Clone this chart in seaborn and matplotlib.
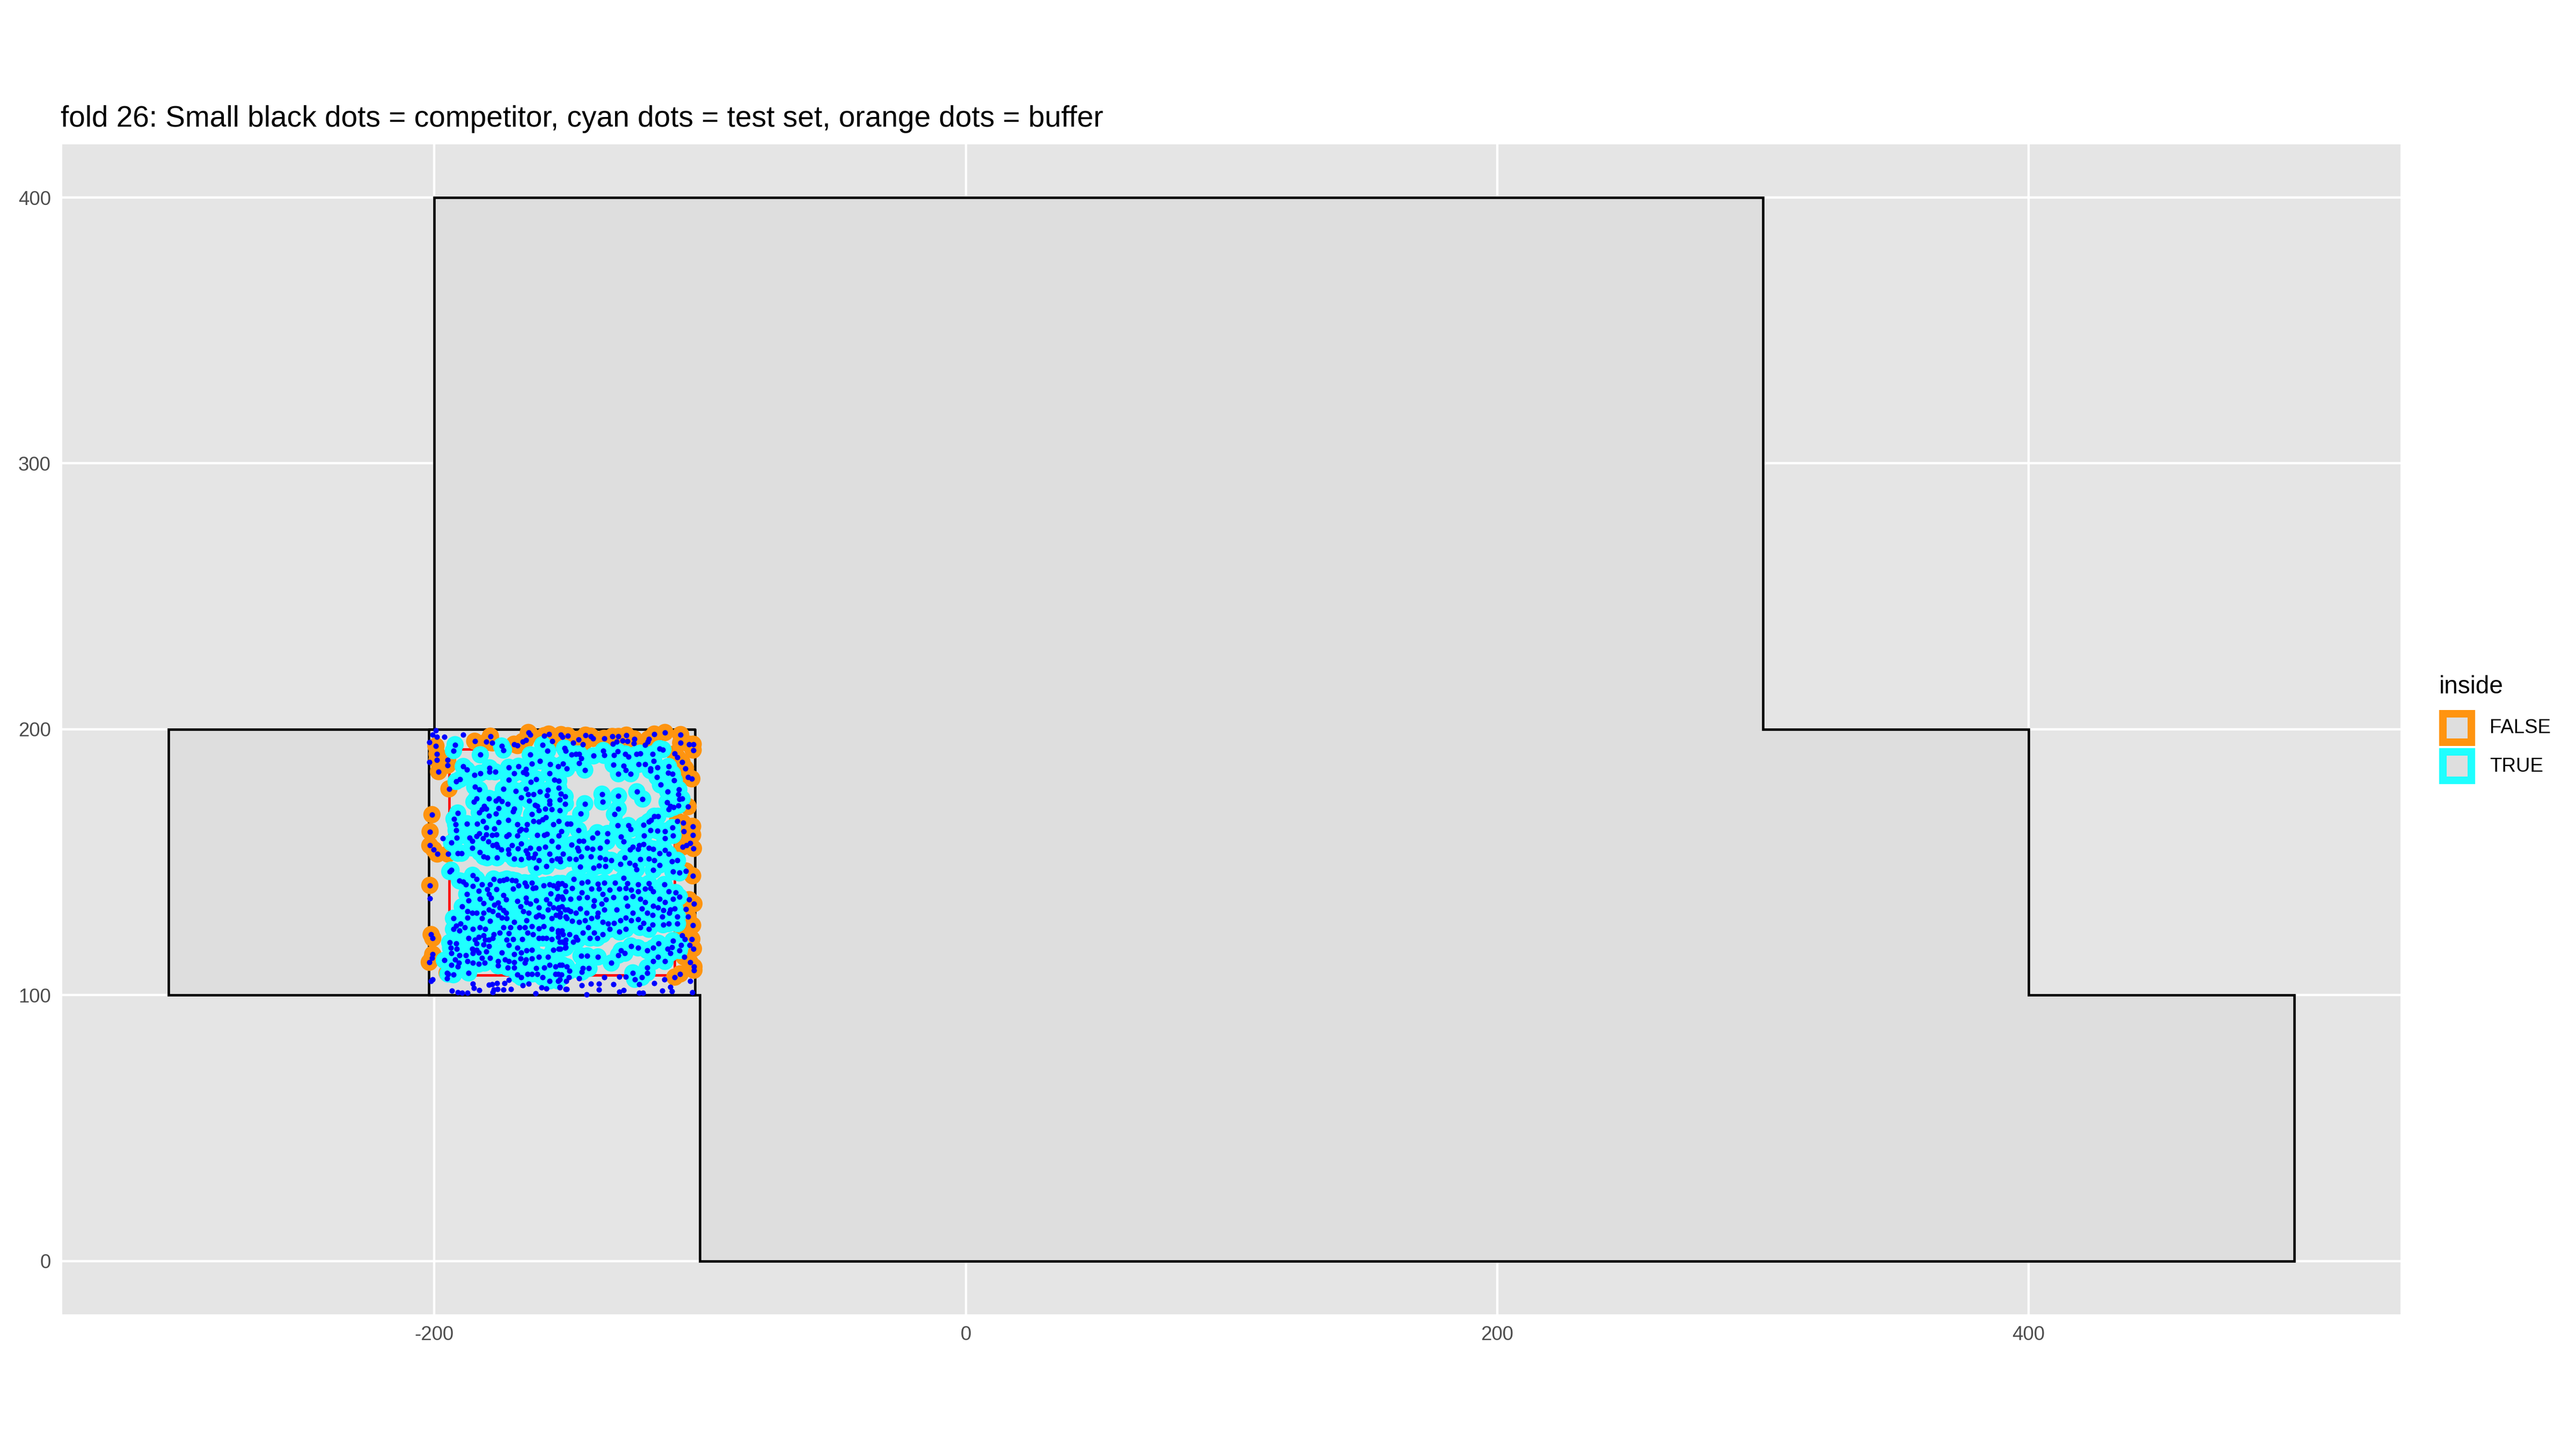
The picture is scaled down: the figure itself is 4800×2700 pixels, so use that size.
import matplotlib
matplotlib.use("Agg")
import matplotlib.pyplot as plt
from matplotlib.patches import Rectangle
import seaborn as sns
import pandas as pd

# ---------------- data ----------------
title = "fold 26: Small black dots = competitor, cyan dots = test set, orange dots = buffer"

poly_x = [-300, -300, -200, -200, 300, 300, 400, 400, 500, 500, -100, -100, -300]
poly_y = [100, 200, 200, 400, 400, 200, 200, 100, 100, 0, 0, 100, 100]

fold_x = [-202, -102, -102, -202, -202]
fold_y = [100, 100, 200, 200, 100]

inner_x = [-194.5, -109.5, -109.5, -194.5, -194.5]
inner_y = [107.5, 107.5, 192.5, 192.5, 107.5]

x_ticks = [-200, 0, 200, 400]
y_ticks = [0, 100, 200, 300, 400]
legend_title = "inside"
legend_labels = ["FALSE", "TRUE"]

buffer_pts = [
    (-184.8, 195.5), (-180.4, 195.3), (-178.2, 194.9), (-178.9, 197.4), (-170.0, 194.4),
    (-168.7, 193.9), (-166.8, 195.4), (-165.6, 195.9), (-164.6, 198.8), (-163.9, 198.0),
    (-158.6, 197.6), (-156.9, 198.2), (-155.7, 195.5), (-199.4, 193.7), (-199.0, 190.7),
    (-199.0, 188.4), (-195.0, 188.4), (-195.0, 186.5), (-198.4, 184.1), (-194.5, 177.6),
    (-200.9, 167.9), (-201.6, 161.5), (-201.7, 156.3), (-200.2, 154.8), (-198.9, 153.1),
    (-194.9, 153.1),
    (-152.3, 198.0), (-151.8, 197.1), (-149.8, 197.6), (-145.8, 196.2), (-147.8, 194.9),
    (-144.1, 194.4), (-143.1, 197.8), (-141.1, 197.4), (-140.2, 196.6), (-136.1, 196.6),
    (-133.0, 197.3), (-130.7, 197.3), (-131.4, 195.4), (-132.8, 194.6), (-129.2, 195.7),
    (-127.7, 197.8), (-127.3, 195.5), (-124.8, 196.4), (-125.0, 194.7), (-120.6, 194.1),
    (-119.6, 195.4), (-119.3, 196.4), (-117.2, 198.2), (-113.2, 198.8), (-107.3, 198.0),
    (-107.3, 194.9), (-104.1, 194.4), (-102.6, 194.4), (-102.6, 192.2), (-109.5, 190.8),
    (-108.5, 189.4), (-106.8, 187.7), (-105.5, 185.3), (-104.5, 182.1), (-103.1, 181.4),
    (-104.5, 170.9), (-108.5, 165.5), (-106.4, 164.8), (-102.8, 163.5), (-106.1, 161.7),
    (-102.8, 160.3), (-103.8, 157.1), (-105.1, 156.4), (-106.5, 155.8), (-102.5, 155.2),
    (-201.7, 141.3), (-201.2, 122.8), (-200.6, 121.4), (-200.6, 115.4), (-200.9, 114.0),
    (-201.9, 112.4), (-195.2, 108.4),
    (-105.3, 146.7), (-102.8, 144.9), (-104.1, 135.9), (-102.3, 134.4), (-105.3, 132.4),
    (-104.5, 129.5), (-102.8, 126.3), (-106.8, 122.5), (-103.1, 121.1), (-105.8, 121.0),
    (-103.9, 118.8), (-102.5, 117.5), (-106.0, 114.4), (-103.8, 112.4), (-102.3, 110.7),
    (-102.3, 109.4), (-107.5, 108.0), (-109.5, 106.8),
]

test_pts = [
    # upper-left block
    (-192.2, 194.2), (-192.8, 192.0), (-182.7, 190.4), (-174.7, 193.7), (-174.0, 192.2),
    (-159.2, 194.2), (-157.4, 191.9), (-189.1, 186.0), (-187.8, 184.8), (-184.9, 182.9),
    (-182.7, 183.5), (-179.2, 185.5), (-179.2, 184.1), (-177.1, 184.0), (-191.8, 180.4),
    (-190.3, 181.2), (-172.0, 185.7), (-170.0, 183.4), (-168.3, 186.1), (-166.6, 183.8),
    (-165.3, 183.3), (-165.6, 185.0), (-163.3, 187.0), (-163.9, 190.4), (-160.3, 188.0),
    (-156.4, 186.9), (-156.7, 183.4), (-184.8, 178.3), (-183.1, 177.3), (-174.0, 177.5),
    (-172.0, 181.0), (-169.3, 176.8), (-167.3, 174.4), (-165.6, 177.6), (-164.8, 175.6),
    (-162.6, 175.6), (-163.8, 180.3), (-161.6, 181.3), (-160.3, 176.6), (-164.3, 173.2),
    (-157.2, 177.1), (-157.6, 175.2), (-156.6, 173.2), (-154.9, 181.0), (-185.1, 172.7),
    (-184.2, 173.9), (-179.4, 174.0), (-176.9, 173.2), (-175.9, 173.9), (-174.6, 172.9),
    (-172.3, 172.0), (-175.8, 170.3), (-181.3, 171.2), (-182.0, 169.9), (-180.4, 170.1),
    (-183.1, 168.7), (-179.4, 167.5), (-176.9, 168.2), (-170.0, 170.2), (-170.3, 169.2),
    (-162.1, 171.6), (-161.3, 171.2), (-160.6, 169.5), (-163.4, 168.0), (-158.2, 170.2),
    (-155.9, 169.9), (-156.6, 171.9), (-191.2, 168.5), (-192.6, 166.3), (-192.0, 164.2),
    (-191.8, 162.0), (-191.5, 159.3), (-193.5, 157.3), (-187.7, 164.5), (-184.0, 164.4),
    (-181.6, 165.4), (-180.4, 163.1), (-177.5, 162.6), (-175.8, 165.0), (-172.2, 165.8),
    (-168.7, 164.3), (-167.3, 162.5), (-165.5, 162.2), (-165.2, 164.3), (-162.6, 165.5),
    (-160.6, 165.2), (-159.2, 166.0), (-158.0, 166.8), (-155.2, 164.2), (-168.0, 161.8),
    (-168.8, 160.0), (-172.0, 160.5), (-172.7, 159.8), (-176.7, 160.5), (-178.2, 160.3),
    (-180.4, 160.5), (-181.6, 159.1), (-183.0, 160.8), (-184.1, 159.8), (-186.8, 159.2),
    (-185.8, 158.1), (-179.7, 157.8), (-178.1, 156.4), (-176.6, 156.8), (-176.2, 155.8),
    (-174.8, 154.7), (-172.1, 154.7), (-170.7, 156.4), (-168.5, 155.1), (-167.3, 156.9),
    (-165.6, 154.3), (-165.0, 153.2), (-163.9, 155.4), (-161.3, 160.3), (-158.6, 160.3),
    (-157.6, 160.6), (-160.6, 155.1), (-158.2, 155.8), (-155.9, 158.1), (-156.6, 153.1),
    (-185.8, 155.4), (-189.8, 153.4), (-191.2, 153.4), (-182.9, 153.7), (-172.0, 153.1),
    (-162.1, 153.1),
    # upper-right block
    (-151.0, 192.9), (-150.5, 192.0), (-148.3, 190.4), (-146.7, 190.7), (-145.5, 190.7),
    (-144.7, 189.0), (-145.5, 187.2), (-143.4, 184.7), (-151.5, 187.0), (-150.2, 185.2),
    (-153.5, 186.1), (-140.1, 190.0), (-136.4, 192.0), (-136.1, 190.2), (-132.7, 186.7),
    (-131.0, 191.7), (-130.7, 183.3), (-128.7, 186.3), (-128.0, 184.6), (-126.1, 183.3),
    (-132.4, 190.2), (-128.1, 190.7), (-127.0, 189.7), (-124.0, 190.6), (-123.2, 186.8),
    (-120.7, 186.8), (-122.5, 191.0), (-117.9, 190.7), (-117.4, 188.1), (-116.0, 185.7),
    (-118.6, 185.3), (-118.7, 184.5), (-115.2, 192.7), (-114.0, 192.4), (-116.2, 182.0),
    (-114.9, 179.1), (-111.9, 186.0), (-112.0, 183.6), (-110.4, 183.3), (-109.7, 180.8),
    (-112.2, 176.6), (-108.0, 177.4), (-108.1, 175.6), (-107.8, 173.8), (-106.8, 173.9),
    (-112.4, 172.6), (-111.2, 171.2), (-110.0, 170.7), (-108.2, 171.4), (-111.7, 170.0),
    (-136.9, 175.6), (-136.7, 172.7), (-130.7, 174.9), (-123.8, 176.5), (-121.6, 173.8),
    (-143.4, 172.0), (-144.9, 168.2), (-130.8, 170.1), (-132.2, 168.0),
    (-153.2, 180.6), (-153.2, 177.9), (-152.3, 175.8), (-150.8, 174.7), (-152.9, 173.6),
    (-150.7, 172.0), (-152.9, 169.5), (-153.2, 165.5), (-150.0, 164.4), (-148.7, 164.4),
    (-145.8, 162.1), (-152.2, 161.7), (-153.2, 160.1), (-148.3, 156.6), (-146.1, 155.4),
    (-145.8, 154.3), (-151.5, 153.1), (-153.5, 155.8),
    (-138.7, 161.1), (-140.4, 159.2), (-134.8, 160.8), (-135.0, 157.8), (-144.0, 158.1),
    (-145.6, 157.9), (-142.4, 155.4), (-140.4, 155.0), (-137.7, 155.4), (-131.0, 163.8),
    (-127.0, 163.8), (-126.1, 162.5), (-129.7, 159.7), (-128.7, 157.8), (-126.3, 154.7),
    (-125.4, 155.8), (-123.0, 156.4), (-121.3, 156.8), (-123.3, 155.0), (-119.3, 155.4),
    (-117.6, 155.0), (-121.1, 160.1), (-118.7, 162.1), (-118.4, 165.8), (-117.2, 167.3),
    (-115.9, 167.3), (-119.3, 165.3), (-121.3, 164.0), (-116.0, 161.8), (-113.2, 161.7),
    (-113.3, 159.0), (-110.4, 163.0), (-110.2, 160.1), (-113.3, 154.6), (-115.2, 153.4),
    (-111.9, 153.1),
    # lower-left block
    (-181.4, 152.1), (-180.1, 151.7), (-176.4, 151.7), (-170.0, 151.4), (-167.3, 151.1),
    (-164.6, 151.7), (-162.6, 151.7), (-160.6, 150.7), (-155.9, 150.7), (-153.9, 151.4),
    (-152.5, 150.4), (-161.6, 148.0), (-157.9, 148.5), (-194.2, 146.5), (-193.7, 147.0),
    (-190.5, 143.0), (-189.2, 142.7), (-188.1, 141.6), (-185.6, 145.1), (-185.5, 141.0),
    (-184.1, 143.7), (-183.4, 139.3), (-182.1, 141.6), (-180.1, 139.8), (-179.1, 141.6),
    (-177.7, 143.7), (-176.7, 139.8), (-175.4, 143.0), (-174.0, 143.3), (-172.7, 143.7),
    (-170.7, 143.3), (-169.3, 143.0), (-170.3, 140.0), (-168.3, 141.3), (-166.0, 142.3),
    (-165.3, 141.0), (-163.3, 142.3), (-162.9, 140.3), (-161.9, 140.4), (-158.9, 141.3),
    (-156.6, 141.6), (-155.2, 141.3), (-153.5, 142.0), (-151.9, 142.0), (-150.5, 139.0),
    (-153.9, 140.3), (-156.2, 138.3), (-153.9, 136.3), (-151.9, 137.0), (-187.8, 138.0),
    (-187.1, 135.6), (-189.5, 133.3), (-182.8, 136.3), (-181.4, 134.6), (-179.4, 138.0),
    (-178.7, 136.6), (-177.4, 133.9), (-176.0, 134.8), (-174.0, 137.6), (-173.0, 135.9),
    (-175.4, 132.9), (-174.0, 131.9), (-173.0, 130.9), (-168.7, 135.3), (-167.6, 133.3),
    (-165.6, 136.6), (-165.3, 134.9), (-163.9, 134.3), (-161.6, 135.6), (-160.6, 132.9),
    (-157.9, 135.9), (-156.6, 134.3), (-155.2, 132.9), (-153.5, 132.6), (-151.9, 133.3),
    (-149.8, 132.2), (-192.8, 128.9), (-190.2, 126.9), (-187.5, 131.6), (-187.5, 129.2),
    (-185.8, 130.9), (-184.1, 130.9), (-182.1, 128.9), (-181.4, 130.9), (-179.4, 132.2),
    (-178.1, 131.6), (-179.1, 127.9), (-176.0, 130.2), (-174.7, 129.2), (-172.7, 128.9),
    (-170.0, 127.5), (-166.6, 131.6), (-164.6, 130.9), (-165.3, 128.2), (-161.6, 129.6),
    (-160.6, 130.2), (-159.2, 129.6), (-157.2, 132.2), (-155.9, 128.9), (-154.2, 130.2),
    (-152.5, 130.9), (-150.5, 129.6), (-191.8, 126.2), (-192.8, 124.8), (-190.5, 124.2),
    (-188.5, 125.5), (-185.5, 124.8), (-182.8, 125.5), (-180.8, 124.8), (-177.7, 122.8),
    (-175.4, 123.5), (-174.0, 125.5), (-171.3, 125.5), (-168.0, 125.5), (-166.0, 125.5),
    (-163.3, 125.9), (-160.6, 125.2), (-158.9, 125.9), (-155.9, 124.8), (-153.5, 123.5),
    (-151.9, 124.2), (-194.2, 119.8), (-191.8, 119.5), (-193.9, 117.8), (-191.5, 117.5),
    (-193.5, 115.8), (-187.1, 121.5), (-184.8, 120.8), (-183.4, 121.8), (-181.4, 122.5),
    (-180.8, 120.8), (-179.4, 120.8), (-184.1, 119.5), (-185.8, 117.5), (-184.1, 117.1),
    (-181.4, 119.0), (-179.4, 118.5), (-178.1, 121.5), (-172.0, 123.2), (-170.3, 121.1),
    (-172.7, 120.8), (-172.0, 118.8), (-168.7, 117.8), (-167.0, 121.1), (-165.0, 123.5),
    (-162.9, 122.8), (-160.6, 121.5), (-159.2, 121.5), (-157.9, 121.5), (-155.9, 121.1),
    (-153.5, 121.8), (-151.9, 120.1), (-150.5, 120.8), (-190.5, 115.1), (-188.1, 115.1),
    (-185.5, 115.8), (-183.4, 116.1), (-180.4, 116.4), (-174.7, 116.1), (-173.4, 113.4),
    (-170.0, 115.4), (-167.3, 116.1), (-165.3, 116.8), (-163.3, 117.1), (-160.6, 114.4),
    (-157.2, 114.4), (-155.2, 117.1), (-152.5, 117.5), (-150.5, 118.1), (-192.2, 113.4),
    (-190.8, 112.1), (-187.5, 112.7), (-185.5, 112.1), (-182.1, 114.1), (-181.1, 112.1),
    (-179.1, 114.1), (-176.0, 112.7), (-172.0, 112.7), (-170.0, 112.4), (-167.6, 113.8),
    (-165.6, 113.4), (-163.3, 113.8), (-196.2, 113.1), (-193.5, 111.4), (-191.2, 110.7),
    (-183.4, 111.7), (-176.0, 111.1), (-172.4, 110.4), (-170.0, 110.4), (-166.0, 112.1),
    (-161.6, 110.1), (-158.6, 110.4), (-156.6, 111.4), (-154.5, 110.7), (-151.9, 111.4),
    (-194.9, 108.0), (-192.8, 107.7), (-187.1, 108.4), (-168.7, 107.7), (-167.3, 106.7),
    (-165.0, 108.0), (-163.3, 108.0), (-161.3, 108.0), (-159.2, 106.7), (-156.6, 105.4),
    (-154.5, 108.0), (-153.5, 105.4), (-152.2, 107.7),
    # lower-right block
    (-152.9, 151.4), (-149.2, 151.4), (-146.8, 151.1), (-144.8, 152.1), (-141.1, 152.1),
    (-137.7, 151.7), (-135.7, 151.1), (-133.4, 150.7), (-128.3, 151.7), (-130.0, 149.4),
    (-126.6, 149.7), (-124.6, 149.0), (-122.6, 151.1), (-119.3, 151.4), (-117.2, 150.7),
    (-115.2, 149.0), (-117.6, 147.0), (-110.5, 150.4), (-108.5, 150.7), (-110.2, 146.4),
    (-107.8, 146.0), (-140.1, 148.0), (-138.1, 148.7), (-135.7, 148.5), (-145.1, 148.4),
    (-124.0, 147.4), (-147.5, 143.7), (-144.5, 142.3), (-142.2, 142.7), (-138.4, 141.8),
    (-136.1, 142.3), (-132.0, 142.3), (-128.7, 144.0), (-127.3, 142.0), (-123.3, 141.6),
    (-119.3, 142.0), (-118.6, 140.3), (-113.5, 141.6), (-111.9, 139.0), (-109.2, 138.6),
    (-107.8, 137.0), (-153.2, 141.6), (-150.8, 141.3), (-148.2, 140.3), (-144.5, 138.6),
    (-140.8, 140.0), (-138.1, 140.0), (-136.7, 138.0), (-134.0, 139.6), (-130.3, 140.0),
    (-128.0, 140.3), (-126.0, 139.6), (-123.3, 139.0), (-120.6, 140.0), (-117.6, 139.0),
    (-115.2, 136.3), (-113.2, 134.9), (-110.2, 136.3), (-153.5, 137.3), (-151.5, 136.3),
    (-148.8, 136.3), (-145.5, 136.6), (-142.4, 136.9), (-139.8, 135.6), (-137.1, 134.3),
    (-135.4, 135.9), (-132.7, 136.9), (-128.0, 136.6), (-125.3, 137.3), (-122.6, 136.3),
    (-120.6, 134.9), (-117.6, 133.6), (-115.9, 132.9), (-113.9, 131.9), (-111.2, 132.2),
    (-109.5, 132.6), (-153.2, 132.9), (-150.8, 132.2), (-148.8, 131.6), (-146.8, 130.9),
    (-145.1, 132.6), (-142.8, 130.9), (-140.1, 133.6), (-138.4, 130.9), (-136.1, 132.2),
    (-131.4, 132.2), (-127.3, 133.6), (-125.3, 130.9), (-121.9, 132.6), (-119.9, 130.9),
    (-117.9, 130.2), (-114.2, 129.6), (-111.5, 130.9), (-108.5, 129.6), (-152.9, 129.6),
    (-150.2, 128.9), (-148.2, 127.9), (-145.5, 127.5), (-143.4, 128.2), (-140.8, 128.9),
    (-138.7, 129.6), (-136.7, 127.5), (-134.7, 126.9), (-132.4, 127.2), (-130.0, 128.2),
    (-128.0, 129.2), (-126.0, 128.2), (-123.3, 128.5), (-121.3, 127.2), (-117.9, 126.5),
    (-113.9, 126.5), (-111.9, 126.9), (-108.5, 126.9), (-153.5, 124.2), (-151.5, 122.8),
    (-149.2, 122.8), (-146.8, 121.8), (-144.1, 123.5), (-142.1, 125.5), (-139.8, 123.5),
    (-136.7, 122.8), (-134.0, 124.8), (-130.3, 123.8), (-128.0, 124.8), (-122.6, 125.5),
    (-119.3, 124.8), (-152.9, 120.1), (-150.8, 119.5), (-147.8, 120.1), (-146.1, 120.8),
    (-141.4, 121.5), (-138.7, 121.5), (-153.2, 117.5), (-150.8, 117.8), (-144.8, 114.8),
    (-142.4, 114.8), (-138.4, 114.4), (-133.4, 112.1), (-130.7, 115.1), (-128.3, 115.8),
    (-129.7, 116.8), (-126.0, 118.5), (-123.3, 117.8), (-119.9, 116.8), (-117.6, 117.8),
    (-115.6, 119.5), (-117.6, 112.7), (-115.9, 114.4), (-113.2, 112.7), (-110.2, 120.5),
    (-110.5, 118.1), (-107.8, 116.8), (-112.2, 117.5), (-111.2, 115.8), (-107.2, 118.8),
    (-152.9, 111.4), (-150.2, 110.7), (-149.2, 109.1), (-144.1, 110.1), (-141.8, 110.1),
    (-144.5, 108.7), (-153.5, 108.0), (-152.9, 106.0), (-125.3, 108.4), (-124.6, 106.0),
    (-121.9, 106.7), (-119.9, 108.4), (-119.9, 110.4),
]

competitor_pts = [
    (-199.4, 199.6), (-200.6, 198.0), (-199.0, 197.1), (-196.3, 197.1), (-189.2, 198.0),
    (-201.9, 195.1), (-201.9, 187.7), (-196.9, 159.1),
    (-201.7, 136.4), (-201.2, 105.4), (-200.6, 106.0), (-185.5, 104.4), (-185.1, 102.7),
    (-183.1, 101.9), (-193.4, 101.7), (-191.2, 101.0), (-189.5, 100.8), (-187.5, 100.8),
    (-179.4, 104.0), (-178.2, 104.1), (-176.4, 104.5), (-177.7, 102.1), (-178.1, 101.0),
    (-176.2, 102.3), (-174.0, 102.1), (-171.2, 102.3), (-173.7, 104.5), (-172.0, 105.7),
    (-166.8, 103.7), (-164.6, 104.3), (-161.9, 100.7), (-159.6, 102.8), (-157.9, 102.5),
    (-152.9, 102.8), (-150.5, 102.3), (-195.2, 106.4),
    (-103.8, 105.4), (-103.0, 101.0), (-110.5, 101.5), (-111.2, 103.0), (-114.2, 101.7),
    (-113.5, 106.0), (-117.2, 104.6), (-122.9, 104.1), (-122.9, 100.8), (-121.4, 100.8),
    (-128.7, 101.9), (-130.4, 101.2), (-132.6, 104.1), (-138.1, 104.4), (-138.1, 102.0),
    (-141.1, 104.4), (-144.5, 103.7), (-142.8, 100.3), (-150.2, 102.3), (-152.9, 103.0),
    (-150.3, 105.4), (-136.1, 106.8), (-130.3, 107.0), (-128.0, 107.0), (-145.5, 106.4),
    (-149.4, 106.8),
]

# ---------------- frames ----------------
circles = pd.DataFrame(
    [(x, y, False) for x, y in buffer_pts] + [(x, y, True) for x, y in test_pts],
    columns=["x", "y", "inside"],
)
dots = pd.DataFrame(buffer_pts + test_pts + competitor_pts, columns=["x", "y"])
poly = pd.DataFrame({"x": poly_x, "y": poly_y})

# ---------------- style ----------------
sns.set_style("white")
plt.rcParams["font.family"] = ["Liberation Sans", "DejaVu Sans"]

ORANGE = "#FF9410"
CYAN = "#1FFFFF"
BLUE = "#0000FF"
PANEL = "#E5E5E5"
POLY = "#DEDEDE"

fig = plt.figure(figsize=(16, 9), dpi=300)
ax = fig.add_axes([0.0242, 0.0930, 0.9077, 0.8074])
ax.set_facecolor(PANEL)
for s in ax.spines.values():
    s.set_visible(False)

ax.set_xlim(-340, 540)
ax.set_ylim(-20, 420)
ax.set_xticks(x_ticks)
ax.set_yticks(y_ticks)
ax.set_xticklabels([str(v) for v in x_ticks])
ax.set_yticklabels([str(v) for v in y_ticks])
ax.grid(True, color="white", linewidth=1.05)
ax.set_axisbelow(True)
ax.tick_params(axis="both", length=2.6, width=0.8, color="#333333",
               labelsize=8.8, labelcolor="#4D4D4D", pad=2.5)

# polygon
ax.fill(poly["x"], poly["y"], facecolor=POLY, edgecolor="black", linewidth=1.1, zorder=2)
# fold box and inner red box
sns.lineplot(x=fold_x, y=fold_y, sort=False, estimator=None, color="black",
             linewidth=1.1, ax=ax, zorder=3)
sns.lineplot(x=inner_x, y=inner_y, sort=False, estimator=None, color="red",
             linewidth=1.1, ax=ax, zorder=3)

# buffer / test circles
sns.scatterplot(data=circles, x="x", y="y", hue="inside",
                palette={False: ORANGE, True: CYAN}, s=60, linewidth=0,
                legend=False, ax=ax, zorder=4)
# all points (small dots)
sns.scatterplot(data=dots, x="x", y="y", color=BLUE, s=6, linewidth=0,
                legend=False, ax=ax, zorder=5)

ax.set_xlabel("")
ax.set_ylabel("")

# title
fig.text(0.0235, 0.9126, title, fontsize=13.2, color="black", ha="left", va="baseline")

# legend (ggplot-style keys)
fig.text(0.9469, 0.5215, legend_title, fontsize=11, color="black", ha="left", va="baseline")
W, H = 4800.0, 2700.0
for i, (lab, col) in enumerate(zip(legend_labels, [ORANGE, CYAN])):
    top = 1323 + i * 71
    x0 = 4545 / W
    y0 = 1 - (top + 67) / H
    fig.add_artist(Rectangle((x0, y0), 67 / W, 67 / H, transform=fig.transFigure,
                             facecolor=col, edgecolor="none"))
    fig.add_artist(Rectangle(((4545 + 14) / W, 1 - (top + 67 - 14) / H), 39 / W, 39 / H,
                             transform=fig.transFigure, facecolor=POLY, edgecolor="none"))
    fig.text(4639 / W, 1 - (top + 34) / H, lab, fontsize=8.8, color="black",
             ha="left", va="center")

fig.savefig("out.png", dpi=300, facecolor="white")
